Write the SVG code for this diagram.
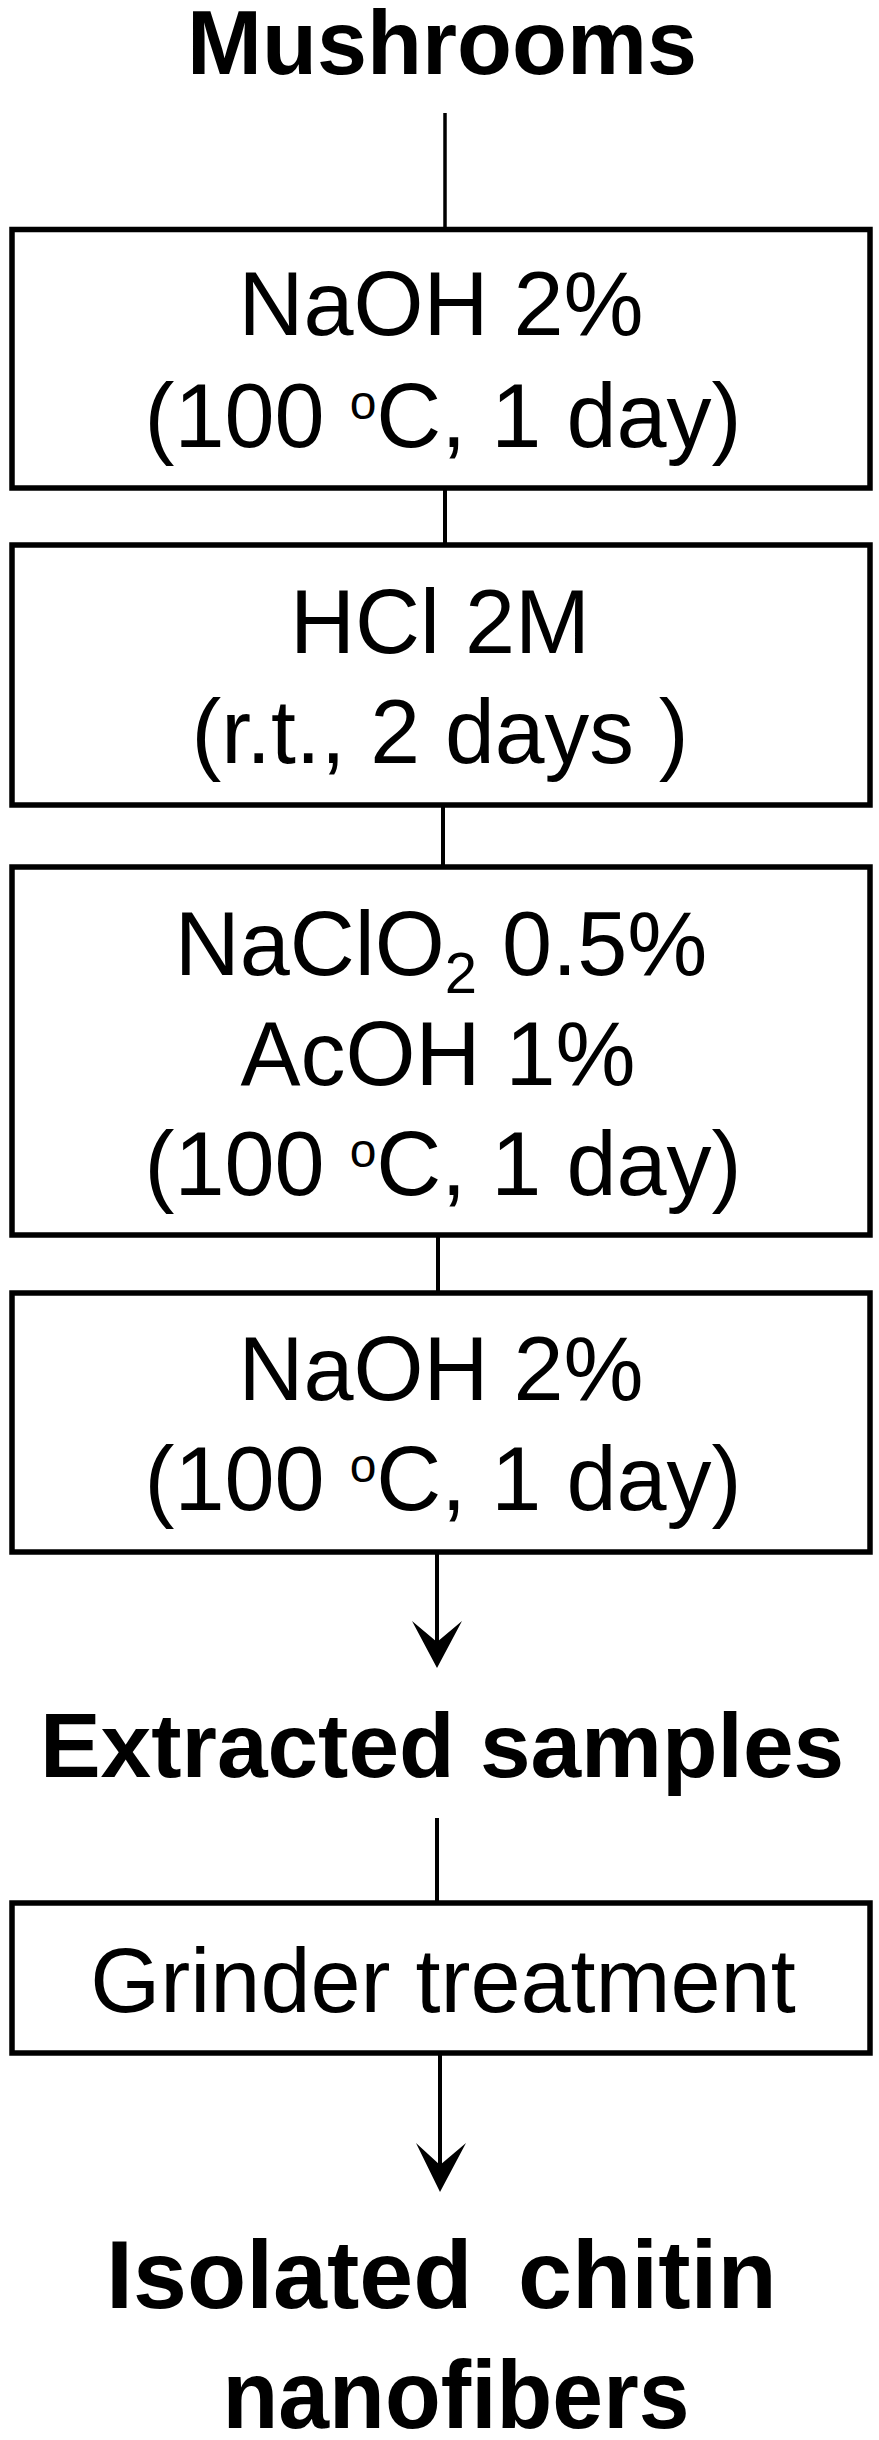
<svg xmlns="http://www.w3.org/2000/svg" width="879" height="2440" viewBox="0 0 879 2440">
<defs>
<style>
.box{fill:#fff;stroke:#000;stroke-width:5.5}
.t{font-family:"Liberation Sans",Arial,sans-serif;font-size:90px;fill:#000;text-anchor:middle}
.b{font-family:"Liberation Sans",Arial,sans-serif;font-weight:bold;fill:#000;text-anchor:middle}
.c{stroke:#000;stroke-width:4;fill:none}
.ah{fill:#000;stroke:none}
</style>
</defs>
<rect width="879" height="2440" fill="#fff"/>
<g id="connectors">
<line class="c" x1="445" y1="113" x2="445" y2="229" style="stroke-width:3.5"/>
<line class="c" x1="445" y1="488" x2="445" y2="545"/>
<line class="c" x1="443" y1="805" x2="443" y2="867"/>
<line class="c" x1="438" y1="1235" x2="438" y2="1293"/>
<line class="c" x1="437" y1="1552" x2="437" y2="1645"/>
<path class="ah" d="M437 1668 L412 1621 L437 1642 L462 1621 Z"/>
<line class="c" x1="437" y1="1818" x2="437" y2="1903"/>
<line class="c" x1="440" y1="2053" x2="440" y2="2170"/>
<path class="ah" d="M440 2192 L416 2143 L440 2165 L466 2143 Z"/>
</g>
<g id="mushrooms">
<text class="b" x="442" y="74" font-size="90">Mushrooms</text>
</g>
<g id="step1">
<rect class="box" x="12" y="229.5" width="858" height="258.5"/>
<text class="t" x="441" y="335">NaOH 2%</text>
<text class="t" x="443" y="447">(100 <tspan font-size="48" dy="-28">o</tspan><tspan dy="28">C, 1 day)</tspan></text>
</g>
<g id="step2">
<rect class="box" x="12" y="545" width="858" height="260"/>
<text class="t" x="440" y="653">HCl 2M</text>
<text class="t" x="440" y="763" textLength="497" lengthAdjust="spacingAndGlyphs">(r.t., 2 days )</text>
</g>
<g id="step3">
<rect class="box" x="12" y="867" width="858" height="368"/>
<text class="t" x="441" y="975">NaClO<tspan font-size="58" dy="18">2</tspan><tspan dy="-18"> 0.5%</tspan></text>
<text class="t" x="438" y="1085">AcOH 1%</text>
<text class="t" x="443" y="1195">(100 <tspan font-size="48" dy="-28">o</tspan><tspan dy="28">C, 1 day)</tspan></text>
</g>
<g id="step4">
<rect class="box" x="12" y="1293" width="858" height="259"/>
<text class="t" x="441" y="1400">NaOH 2%</text>
<text class="t" x="443" y="1510">(100 <tspan font-size="48" dy="-28">o</tspan><tspan dy="28">C, 1 day)</tspan></text>
</g>
<g id="extracted">
<text class="b" x="442" y="1777" font-size="91">Extracted samples</text>
</g>
<g id="step5">
<rect class="box" x="12" y="1903" width="858" height="150"/>
<text class="t" x="443" y="2012">Grinder treatment</text>
</g>
<g id="product">
<text class="b" font-size="97" y="2308" style="text-anchor:start"><tspan x="106">Isolated</tspan><tspan x="518">chitin</tspan></text>
<text class="b" x="456" y="2428" font-size="97" textLength="467" lengthAdjust="spacingAndGlyphs">nanofibers</text>
</g>
</svg>
